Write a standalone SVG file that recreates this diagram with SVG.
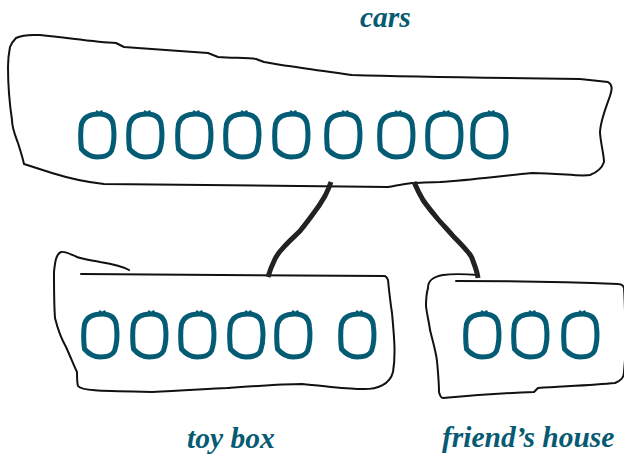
<svg xmlns="http://www.w3.org/2000/svg" xmlns:xlink="http://www.w3.org/1999/xlink" width="624" height="457" viewBox="0 0 624 457">
<style>
.box{fill:none;stroke:#111;stroke-width:2;stroke-linejoin:round;stroke-linecap:round}
.ring{fill:none;stroke:#045b74;stroke-width:5;stroke-linejoin:round;stroke-linecap:round}
.nub{fill:none;stroke:#045b74;stroke-width:2.5;stroke-linecap:round}
.link{fill:none;stroke:#222;stroke-width:5;stroke-linecap:butt;stroke-linejoin:round}
.lbl{font-family:"Liberation Serif","Times New Roman",serif;font-style:italic;font-weight:bold;font-size:29.5px;fill:#065a72}
</style>
<defs>
<g id="car">
<path class="ring" d="M 2,-21 C 11,-21 16,-17 16.5,-8 C 17.5,0 16.5,10 14.5,16 C 12,21 5,22 0,22 C -6,22 -12,18 -15.5,14 C -16.5,6 -16.5,-4 -15.5,-11 C -13,-19 -5.5,-21 2,-21 Z"/>
<path class="nub" d="M 0,-23.5 L 2,-21 L 4.5,-23.5"/>
</g>
</defs>
<g id="cars">
<path class="box" d="M 16,38 C 24,34 32,35 40,35 C 70,38 95,42 116,43 L 124,47 C 150,49 180,51 208,53 L 218,57 C 235,58 248,58 256,59 L 264,62 C 275,64 285,66 296,67 C 315,70 330,72 352,75 C 420,77 500,78 580,79 L 608,82 C 613,85 612,90 610,96 C 605,110 600,122 600,133 C 601,145 604,155 604,162 C 602,168 598,172 590,175 C 580,177 560,173 532,173 C 500,176 470,180 440,182 C 430,182 420,183 412,183 C 402,184 395,186 388,187 L 104,184 C 85,182 68,178 52,173 L 24,164 C 22,155 20,150 18,143 C 15,135 12,128 12,120 C 9,100 8,80 8,67 C 8,58 9,52 10,47 C 12,42 14,40 16,38 Z"/>
<text class="lbl" x="360" y="27">cars</text>
<use xlink:href="#car" href="#car" x="97" y="135"/>
<use xlink:href="#car" href="#car" x="145" y="135"/>
<use xlink:href="#car" href="#car" x="194" y="135"/>
<use xlink:href="#car" href="#car" x="242" y="135"/>
<use xlink:href="#car" href="#car" x="291" y="135"/>
<use xlink:href="#car" href="#car" x="343" y="135"/>
<use xlink:href="#car" href="#car" x="396" y="135"/>
<use xlink:href="#car" href="#car" x="444" y="135"/>
<use xlink:href="#car" href="#car" x="489" y="135"/>
</g>
<g id="toy-box">
<path class="box" d="M 129,270 C 122,266 112,264 100,262 C 90,260 82,259 77,257 C 70,254 65,251 61,252 C 56,254 55,262 54,272 C 54,290 54,305 55,318 C 58,330 62,340 66,347 C 71,358 74,366 77,372 C 77,378 77,383 78,386 C 82,391 100,391 152,392 C 180,391 205,389 227,388 C 255,386 282,384 302,384 C 325,386 345,389 360,389 C 378,390 390,384 393,372 C 396,355 394,335 392,313 C 390,300 389,290 388,280 C 387,277 386,276 384,276 L 81,274"/>
<text class="lbl" x="187" y="448">toy box</text>
<use xlink:href="#car" href="#car" x="100" y="335"/>
<use xlink:href="#car" href="#car" x="149" y="335"/>
<use xlink:href="#car" href="#car" x="197" y="335"/>
<use xlink:href="#car" href="#car" x="246" y="335"/>
<use xlink:href="#car" href="#car" x="293" y="335"/>
<use xlink:href="#car" href="#car" x="357" y="335"/>
</g>
<g id="friends-house">
<path class="box" d="M 478,275 C 465,274 450,274 443,275 C 432,277 428,281 428,288 C 426,295 426,300 426,306 C 427,315 429,322 430,330 C 433,342 436,352 437,361 C 438,372 439,382 439,392 C 440,396 441,398 443,398 C 475,395 505,393 534,392 L 538,388 C 570,386 595,385 615,383 C 622,380 624,377 624,372 C 625,360 626,350 626,340 C 625,320 625,300 624,288 C 623,285 621,284 618,284 C 570,282 510,281 456,281"/>
<text class="lbl" x="442" y="447">friend’s house</text>
<use xlink:href="#car" href="#car" x="482" y="335"/>
<use xlink:href="#car" href="#car" x="530" y="335"/>
<use xlink:href="#car" href="#car" x="580" y="335"/>
</g>
<g id="connectors">
<path class="link" d="M 331,182 C 329,188 327,192 325,196 C 321,203 317,209 313,214 C 308,221 304,226 300,231 C 294,237 288,242 283,248 C 279,252 277,255 275,259 C 272,265 270,270 268,277"/>
<path class="link" d="M 414,182 C 417,189 420,195 423,200 C 427,206 432,212 437,218 C 442,224 448,230 453,236 C 458,241 463,246 467,251 C 470,254 472,257 473,261 C 475,266 477,271 478,278"/>
</g>
</svg>
